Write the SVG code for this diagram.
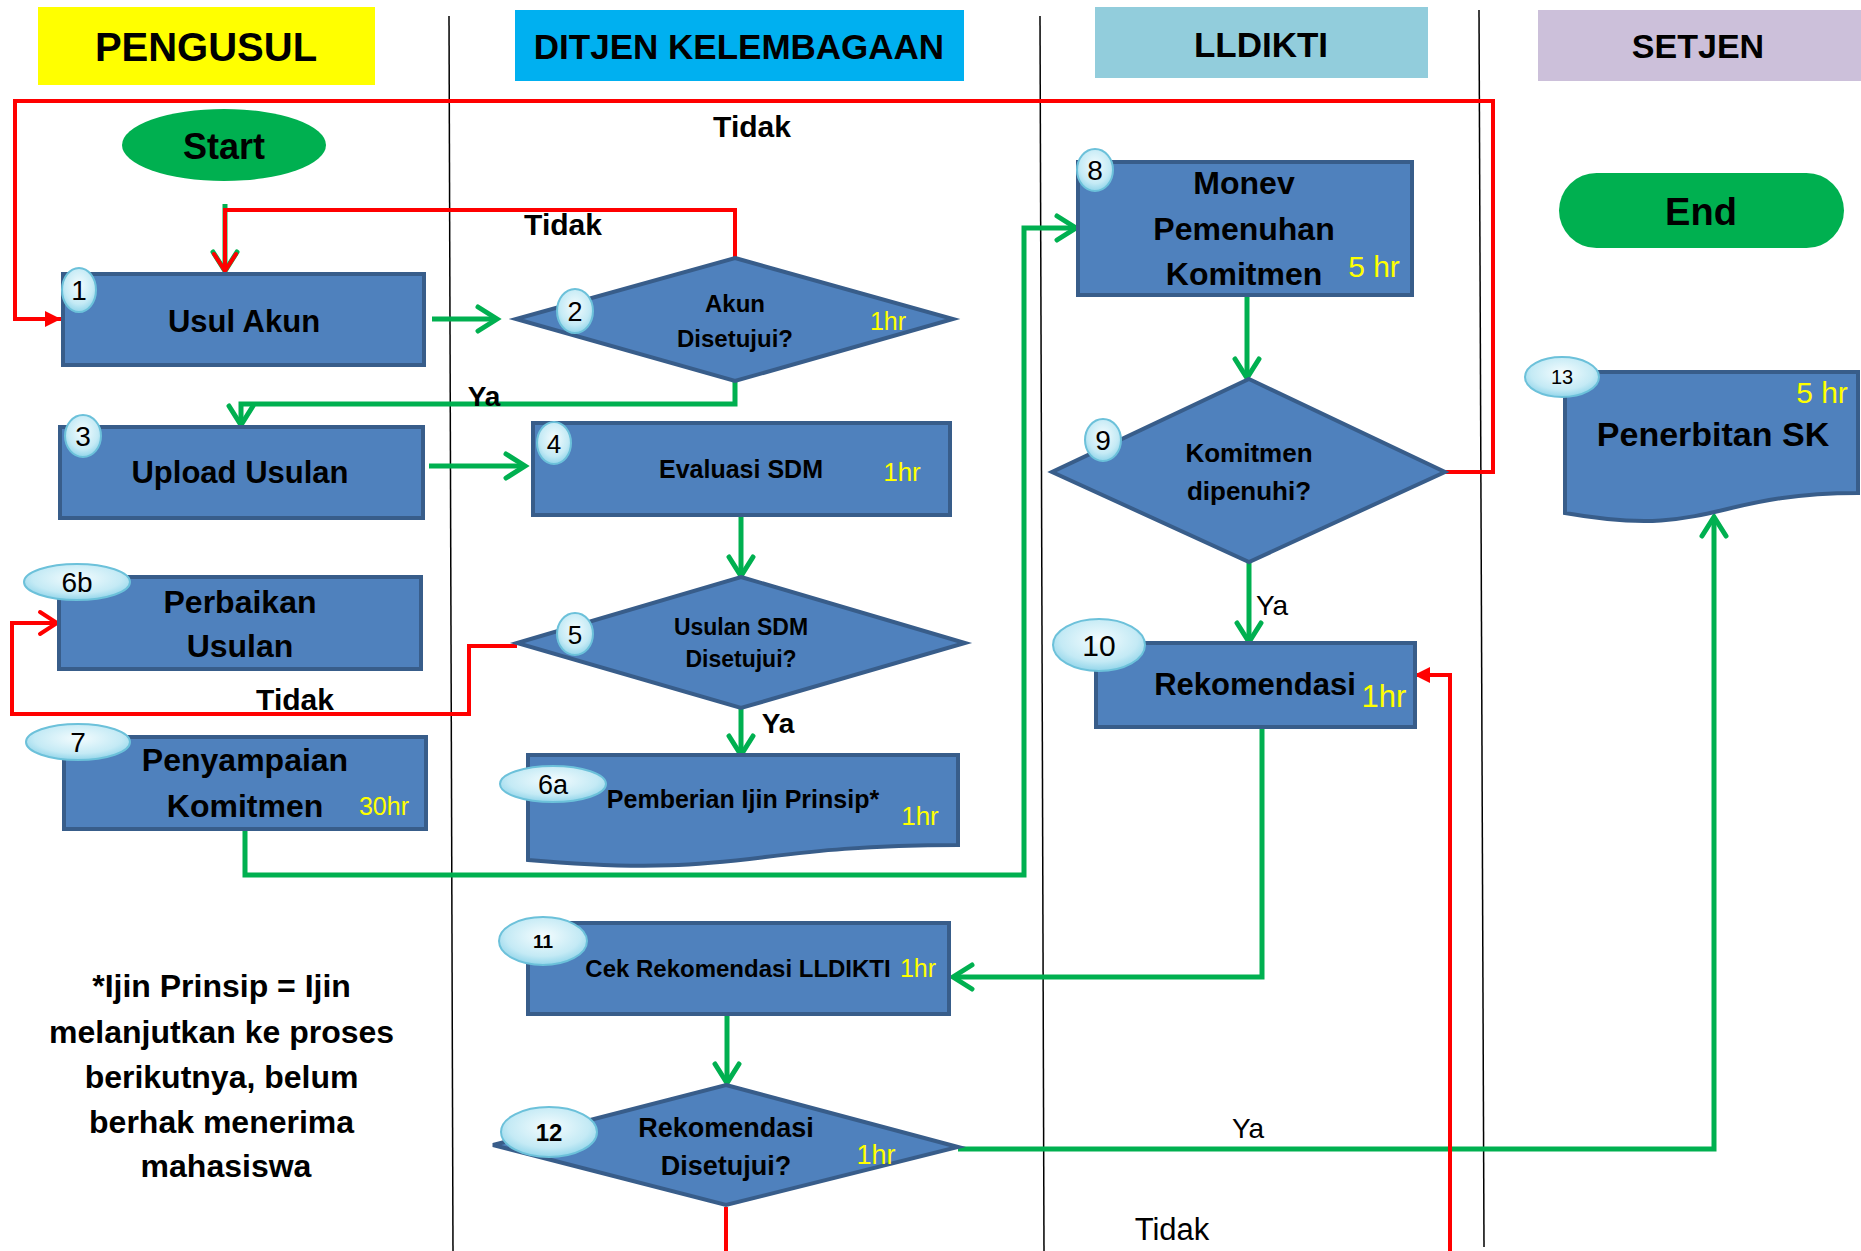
<svg xmlns="http://www.w3.org/2000/svg" width="1861" height="1251" viewBox="0 0 1861 1251">
<style>
.t{font-family:"Liberation Sans",Arial,sans-serif;text-anchor:middle;fill:#000}
.b{font-weight:bold}
.y{fill:#FFFF00;font-family:"Liberation Sans",Arial,sans-serif;text-anchor:middle}
.box{fill:#4F81BD;stroke:#385D8A;stroke-width:4}
.badge{fill:url(#bg);stroke:#6CC1DA;stroke-width:2}
.lane{stroke:#000;stroke-width:1.5;fill:none}
.g{stroke:#00B050;stroke-width:5;fill:none;stroke-linejoin:miter}
.r{stroke:#FF0000;stroke-width:4;fill:none}
</style>
<defs>
<radialGradient id="bg" cx="50%" cy="40%" r="60%">
<stop offset="0" stop-color="#F4FCFE"/>
<stop offset="0.7" stop-color="#C4EAF5"/>
<stop offset="1" stop-color="#92D5EA"/>
</radialGradient>
<marker id="ga" markerUnits="userSpaceOnUse" viewBox="0 0 30 30" markerWidth="30" markerHeight="30" refX="25" refY="15" orient="auto">
<path d="M6,3 L25,15 L6,27" fill="none" stroke="#00B050" stroke-width="5" stroke-linecap="round"/>
</marker>
<marker id="ra" markerUnits="userSpaceOnUse" viewBox="0 0 30 30" markerWidth="30" markerHeight="30" refX="25" refY="15" orient="auto">
<path d="M8,4 L25,15 L8,26" fill="none" stroke="#FF0000" stroke-width="4" stroke-linecap="round"/>
</marker>
<marker id="rf" markerUnits="userSpaceOnUse" viewBox="0 0 30 30" markerWidth="30" markerHeight="30" refX="24" refY="15" orient="auto">
<path d="M8,7 L24,15 L8,23 Z" fill="#FF0000"/>
</marker>
</defs>

<g id="lanes">
<rect x="38" y="7" width="337" height="78" fill="#FFFF00"/>
<text class="t b" x="206" y="61" font-size="40">PENGUSUL</text>
<rect x="515" y="10" width="449" height="71" fill="#00B0F0"/>
<text class="t b" x="739" y="59" font-size="35">DITJEN KELEMBAGAAN</text>
<rect x="1095" y="7" width="333" height="71" fill="#92CDDC"/>
<text class="t b" x="1261" y="57" font-size="35">LLDIKTI</text>
<rect x="1538" y="10" width="323" height="71" fill="#CCC0DA"/>
<text class="t b" x="1698" y="58" font-size="34">SETJEN</text>
<line class="lane" x1="449" y1="16" x2="453" y2="1251"/>
<line class="lane" x1="1040" y1="16" x2="1044" y2="1251"/>
<line class="lane" x1="1479" y1="10" x2="1484" y2="1247"/>
</g>

<g id="connectors">
<path class="g" d="M225,204 V271" marker-end="url(#ga)"/>
<path class="r" d="M735,258 V210 H225 V271" marker-end="url(#ra)"/>
<path class="r" d="M1445,472 H1493 V101 H15 V319 H61" marker-end="url(#rf)"/>
<path class="g" d="M432,319 H497" marker-end="url(#ga)"/>
<path class="g" d="M735,381 V404 H241 V425" marker-end="url(#ga)"/>
<path class="g" d="M429,466 H525" marker-end="url(#ga)"/>
<path class="g" d="M741,515 V576" marker-end="url(#ga)"/>
<path class="r" d="M517,646 H469 V714 H12 V623 H57" marker-end="url(#ra)"/>
<path class="g" d="M741,708 V755" marker-end="url(#ga)"/>
<path class="g" d="M245,829 V875 H1024 V228 H1076" marker-end="url(#ga)"/>
<path class="g" d="M1247,297 V378" marker-end="url(#ga)"/>
<path class="g" d="M1249,562 V642" marker-end="url(#ga)"/>
<path class="g" d="M1262,727 V977 H953" marker-end="url(#ga)"/>
<path class="g" d="M727,1014 V1083" marker-end="url(#ga)"/>
<path class="g" d="M958,1149 H1714 V517" marker-end="url(#ga)"/>
<path class="r" d="M726,1207 V1251"/>
<path class="r" d="M1450,1251 V675 H1414" marker-end="url(#rf)"/>
<text class="t b" x="752" y="137" font-size="30">Tidak</text>
<text class="t b" x="563" y="235" font-size="30">Tidak</text>
<text class="t b" x="484" y="406" font-size="28">Ya</text>
<text class="t b" x="295" y="710" font-size="30">Tidak</text>
<text class="t b" x="778" y="733" font-size="28">Ya</text>
<text class="t" x="1272" y="615" font-size="28">Ya</text>
<text class="t" x="1248" y="1138" font-size="28">Ya</text>
<text class="t" x="1172" y="1240" font-size="31">Tidak</text>
</g>

<g id="start">
<ellipse cx="224" cy="145" rx="102" ry="36" fill="#00B050"/>
<text class="t b" x="224" y="159" font-size="36">Start</text>
</g>

<g id="end">
<rect x="1559" y="173" width="285" height="75" rx="37.5" fill="#00B050"/>
<text class="t b" x="1701" y="225" font-size="38">End</text>
</g>

<g id="node1">
<rect class="box" x="63" y="274" width="361" height="91"/>
<text class="t b" x="244" y="332" font-size="31">Usul Akun</text>
<ellipse class="badge" cx="79" cy="290" rx="17" ry="22"/>
<text class="t" x="79" y="300" font-size="28">1</text>
</g>

<g id="node2">
<polygon class="box" points="735,258 953,319 735,381 516,319"/>
<text class="t b" x="735" y="312" font-size="24">Akun</text>
<text class="t b" x="735" y="347" font-size="24">Disetujui?</text>
<text class="y" x="888" y="330" font-size="25">1hr</text>
<ellipse class="badge" cx="575" cy="311" rx="18" ry="22"/>
<text class="t" x="575" y="321" font-size="27">2</text>
</g>

<g id="node3">
<rect class="box" x="60" y="427" width="363" height="91"/>
<text class="t b" x="240" y="483" font-size="31">Upload Usulan</text>
<ellipse class="badge" cx="83" cy="436" rx="18" ry="21"/>
<text class="t" x="83" y="446" font-size="28">3</text>
</g>

<g id="node4">
<rect class="box" x="533" y="423" width="417" height="92"/>
<text class="t b" x="741" y="478" font-size="25">Evaluasi SDM</text>
<text class="y" x="902" y="481" font-size="26">1hr</text>
<ellipse class="badge" cx="554" cy="443" rx="17" ry="21"/>
<text class="t" x="554" y="453" font-size="26">4</text>
</g>

<g id="node5">
<polygon class="box" points="741,577 965,643 741,708 517,643"/>
<text class="t b" x="741" y="635" font-size="23">Usulan SDM</text>
<text class="t b" x="741" y="667" font-size="23">Disetujui?</text>
<ellipse class="badge" cx="575" cy="634" rx="18" ry="21"/>
<text class="t" x="575" y="644" font-size="26">5</text>
</g>

<g id="node6b">
<rect class="box" x="59" y="577" width="362" height="92"/>
<text class="t b" x="240" y="613" font-size="32">Perbaikan</text>
<text class="t b" x="240" y="657" font-size="32">Usulan</text>
<ellipse class="badge" cx="77" cy="582" rx="53" ry="18"/>
<text class="t" x="77" y="592" font-size="28">6b</text>
</g>

<g id="node7">
<rect class="box" x="64" y="737" width="362" height="92"/>
<text class="t b" x="245" y="771" font-size="32">Penyampaian</text>
<text class="t b" x="245" y="817" font-size="32">Komitmen</text>
<text class="y" x="384" y="815" font-size="25">30hr</text>
<ellipse class="badge" cx="78" cy="742" rx="52" ry="18"/>
<text class="t" x="78" y="752" font-size="28">7</text>
</g>

<g id="node6a">
<path class="box" d="M528,755 H958 V845 C743,845 743,879 528,860 Z"/>
<text class="t b" x="743" y="808" font-size="25">Pemberian Ijin Prinsip*</text>
<text class="y" x="920" y="825" font-size="26">1hr</text>
<ellipse class="badge" cx="553" cy="784" rx="53" ry="18"/>
<text class="t" x="553" y="794" font-size="27">6a</text>
</g>

<g id="node8">
<rect class="box" x="1078" y="162" width="334" height="133"/>
<text class="t b" x="1244" y="194" font-size="32">Monev</text>
<text class="t b" x="1244" y="240" font-size="32">Pemenuhan</text>
<text class="t b" x="1244" y="285" font-size="32">Komitmen</text>
<text class="y" x="1374" y="277" font-size="30">5 hr</text>
<ellipse class="badge" cx="1095" cy="170" rx="18" ry="21"/>
<text class="t" x="1095" y="180" font-size="28">8</text>
</g>

<g id="node9">
<polygon class="box" points="1249,379 1445,472 1249,562 1052,472"/>
<text class="t b" x="1249" y="462" font-size="26">Komitmen</text>
<text class="t b" x="1249" y="500" font-size="26">dipenuhi?</text>
<ellipse class="badge" cx="1103" cy="440" rx="18" ry="21"/>
<text class="t" x="1103" y="450" font-size="28">9</text>
</g>

<g id="node10">
<rect class="box" x="1096" y="643" width="319" height="84"/>
<text class="t b" x="1255" y="695" font-size="31">Rekomendasi</text>
<text class="y" x="1384" y="707" font-size="31">1hr</text>
<ellipse class="badge" cx="1099" cy="645" rx="46" ry="26"/>
<text class="t" x="1099" y="656" font-size="30">10</text>
</g>

<g id="node11">
<rect class="box" x="528" y="923" width="421" height="91"/>
<text class="t b" x="738" y="977" font-size="24">Cek Rekomendasi LLDIKTI</text>
<text class="y" x="918" y="977" font-size="25">1hr</text>
<ellipse class="badge" cx="543" cy="941" rx="44" ry="24"/>
<text class="t b" x="543" y="948" font-size="19">11</text>
</g>

<g id="node12">
<polygon class="box" points="726,1085 958,1147 726,1205 493,1145"/>
<text class="t b" x="726" y="1137" font-size="27">Rekomendasi</text>
<text class="t b" x="726" y="1175" font-size="27">Disetujui?</text>
<text class="y" x="876" y="1164" font-size="27">1hr</text>
<ellipse class="badge" cx="549" cy="1132" rx="48" ry="25"/>
<text class="t b" x="549" y="1141" font-size="24">12</text>
</g>

<g id="node13">
<path class="box" d="M1565,372 H1858 V493 C1711,493 1711,539 1565,513 Z"/>
<text class="t b" x="1713" y="446" font-size="34">Penerbitan SK</text>
<text class="y" x="1822" y="403" font-size="30">5 hr</text>
<ellipse class="badge" cx="1562" cy="377" rx="37" ry="20"/>
<text class="t" x="1562" y="384" font-size="20">13</text>
</g>

<g id="note">
<text class="t b" font-size="32">
<tspan x="226" y="997">*Ijin Prinsip = Ijin</tspan>
<tspan x="226" y="1043">melanjutkan ke proses</tspan>
<tspan x="226" y="1088">berikutnya, belum</tspan>
<tspan x="226" y="1133">berhak menerima</tspan>
<tspan x="226" y="1177">mahasiswa</tspan>
</text>
</g>
</svg>
